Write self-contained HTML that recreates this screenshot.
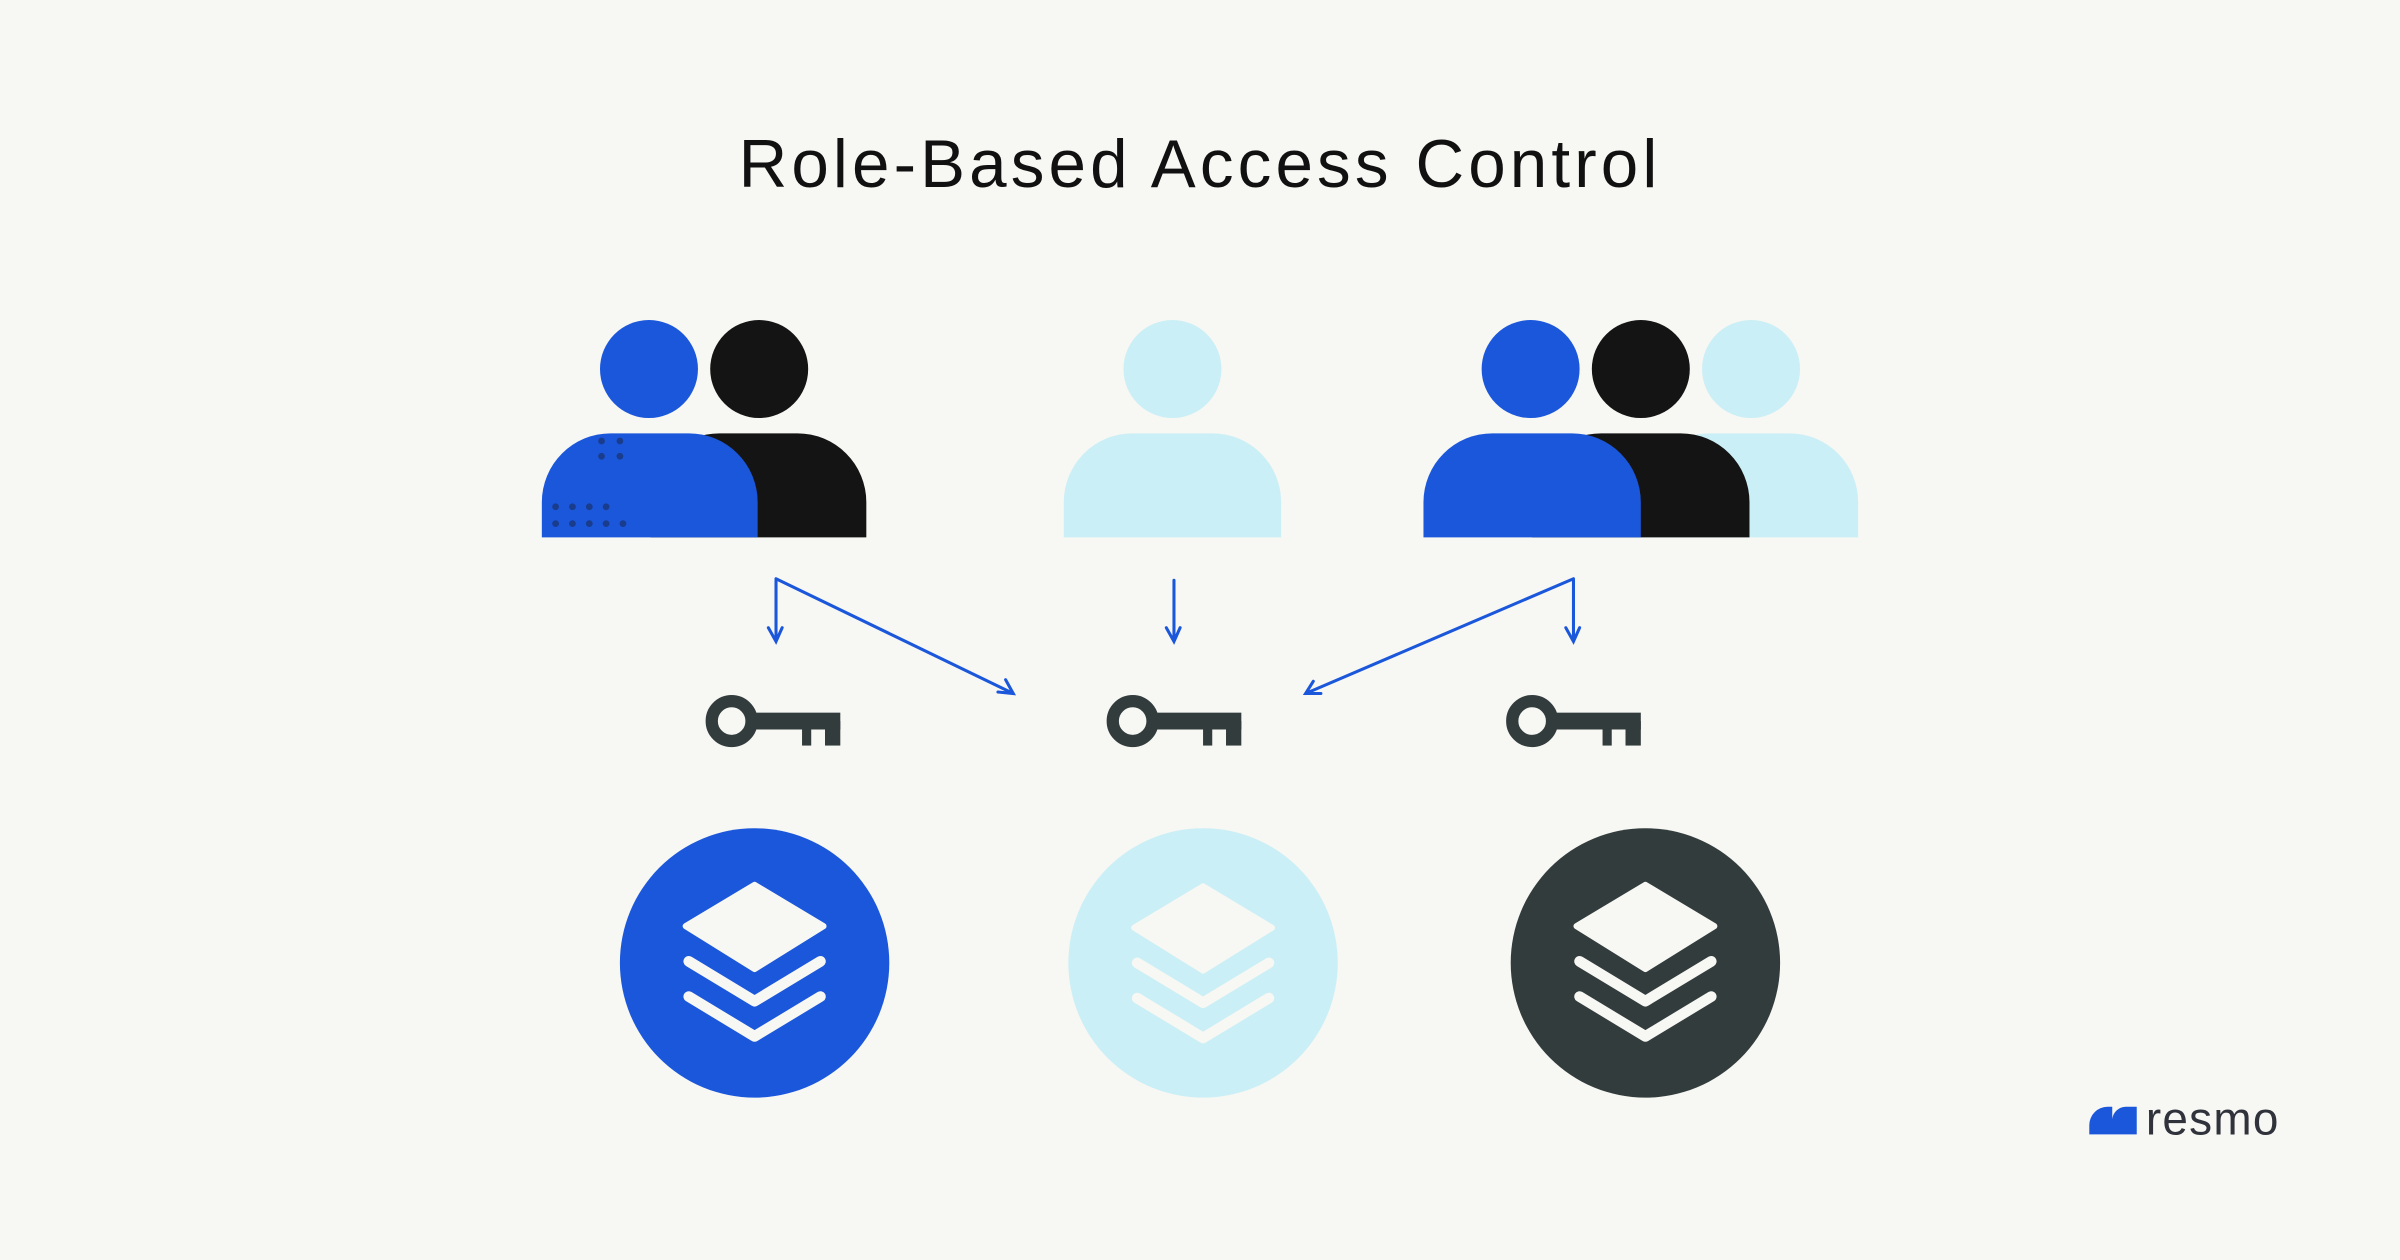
<!DOCTYPE html>
<html><head><meta charset="utf-8"><style>
html,body{margin:0;padding:0;background:#F7F7F3;}
svg{display:block}
</style></head><body>
<svg width="2400" height="1260" viewBox="0 0 1568 823" xmlns="http://www.w3.org/2000/svg">
<rect width="1568" height="823" fill="#F7F7F3"/>
<text x="784" y="122" text-anchor="middle" font-family="Liberation Sans, sans-serif" font-size="44" letter-spacing="2.7" fill="#111">Role-Based Access Control</text>

<!-- group 1 -->
<path d="M425 351 V328 a45 45 0 0 1 45 -45 h51 a45 45 0 0 1 45 45 V351 Z" fill="#141414"/>
<circle cx="496" cy="241" r="32" fill="#141414"/>
<path d="M354 351 V328 a45 45 0 0 1 45 -45 h51 a45 45 0 0 1 45 45 V351 Z" fill="#1B57DB"/>
<circle cx="424" cy="241" r="32" fill="#1B57DB"/>
<g fill="#1A3C8C">
<circle cx="393" cy="288" r="2.2"/><circle cx="405" cy="288" r="2.2"/>
<circle cx="393" cy="298" r="2.2"/><circle cx="405" cy="298" r="2.2"/>
<circle cx="363" cy="331" r="2.2"/><circle cx="374" cy="331" r="2.2"/><circle cx="385" cy="331" r="2.2"/><circle cx="396" cy="331" r="2.2"/>
<circle cx="363" cy="342" r="2.2"/><circle cx="374" cy="342" r="2.2"/><circle cx="385" cy="342" r="2.2"/><circle cx="396" cy="342" r="2.2"/><circle cx="407" cy="342" r="2.2"/>
</g>

<!-- group 2 -->
<path d="M695 351 V328 a45 45 0 0 1 45 -45 h52 a45 45 0 0 1 45 45 V351 Z" fill="#CBEFF6"/>
<circle cx="766" cy="241" r="32" fill="#CBEFF6"/>

<!-- group 3 -->
<path d="M1072 351 V328 a45 45 0 0 1 45 -45 h52 a45 45 0 0 1 45 45 V351 Z" fill="#CBEFF6"/>
<circle cx="1144" cy="241" r="32" fill="#CBEFF6"/>
<path d="M1001 351 V328 a45 45 0 0 1 45 -45 h52 a45 45 0 0 1 45 45 V351 Z" fill="#141414"/>
<circle cx="1072" cy="241" r="32" fill="#141414"/>
<path d="M930 351 V328 a45 45 0 0 1 45 -45 h52 a45 45 0 0 1 45 45 V351 Z" fill="#1B57DB"/>
<circle cx="1000" cy="241" r="32" fill="#1B57DB"/>

<!-- arrows -->
<g stroke="#1B57DB" stroke-width="2" fill="none" stroke-linecap="round">
<path d="M507 379 V418 M502 410 L507 419 L511 410"/>
<path d="M507 378 L662 453 M652 452 L662 453 L657 444"/>
<path d="M767 379 V418 M762 410 L767 419 L771 410"/>
<path d="M1028 379 V418 M1023 410 L1028 419 L1032 410"/>
<path d="M1028 378 L853 453 M863 453 L853 453 L858 445"/>
</g>

<defs>
<g id="key">
<circle cx="0" cy="0" r="13" fill="none" stroke="#323C3D" stroke-width="8"/>
<rect x="14" y="-5.5" width="57" height="11" fill="#323C3D"/>
<rect x="46" y="0" width="6" height="16" fill="#323C3D"/>
<rect x="61" y="0" width="10" height="16" fill="#323C3D"/>
</g>
<g id="layers" fill="#F7F7F3" stroke="#F7F7F3" stroke-linejoin="round" stroke-linecap="round">
<polygon points="0,-52 45,-25 0,3 -45,-25" stroke-width="4"/>
<polyline points="-43,-2 0,24 43,-2" fill="none" stroke-width="7"/>
<polyline points="-43,21 0,47 43,21" fill="none" stroke-width="7"/>
</g>
</defs>
<use href="#key" x="478" y="471"/>
<use href="#key" x="740" y="471"/>
<use href="#key" x="1001" y="471"/>

<circle cx="493" cy="629" r="88" fill="#1B57DB"/>
<circle cx="786" cy="629" r="88" fill="#CBEFF6"/>
<circle cx="1075" cy="629" r="88" fill="#323C3D"/>
<use href="#layers" x="493" y="630"/>
<use href="#layers" x="786" y="631"/>
<use href="#layers" x="1075" y="630"/>

<path d="M1365 741 V735 a12 12 0 0 1 12 -12 h3 V731 a9 9 0 0 1 9 -8 h7 V741 Z" fill="#1B57DB"/>
<text x="1402" y="741" font-family="Liberation Sans, sans-serif" font-size="30" letter-spacing="0.8" fill="#30333B">resmo</text>
</svg>
</body></html>
